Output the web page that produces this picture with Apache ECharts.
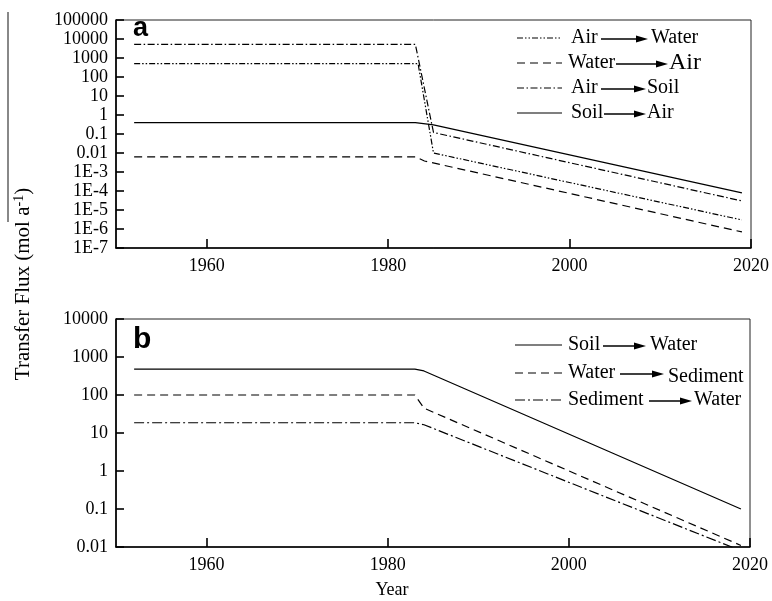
<!DOCTYPE html>
<html>
<head>
<meta charset="utf-8">
<script src="https://cdn.jsdelivr.net/npm/echarts@6/dist/echarts.min.js"></script>
<style>html,body{margin:0;padding:0;background:#fff;}#c{width:772px;height:601px;}</style>
</head>
<body>
<div id="c"></div>
<script>
// ---------- data ----------
// Panel a
const aAirWaterYears  = [1952, 1983.3, 1985, 2019];
const aAirWater       = [500, 500, 0.01, 3e-6];
const aWaterAirYears  = [1952, 1983, 1984, 2019];
const aWaterAir       = [0.0063, 0.0063, 0.0038, 7e-7];
const aAirSoilYears   = [1952, 1983, 1985, 2019];
const aAirSoil        = [5200, 5200, 0.12, 3e-5];
const aSoilAirYears   = [1952, 1983, 1985, 2019];
const aSoilAir        = [0.4, 0.4, 0.3, 8e-5];
// Panel b
const bSoilWaterYears = [1952, 1983, 1984, 2019];
const bSoilWater      = [480, 480, 430, 0.1];
const bWaterSedYears  = [1952, 1983, 1984, 2019];
const bWaterSed       = [100, 100, 45, 0.011];
const bSedWaterYears  = [1952, 1983, 1984, 2019];
const bSedWater       = [18.6, 18.6, 16.5, 0.008];
// ticks
const xTicks = [1960, 1980, 2000, 2020];
const aYTickLabels = ['1E-7','1E-6','1E-5','1E-4','1E-3','0.01','0.1','1','10','100','1000','10000','100000']; // 1e-7 .. 1e5
const bYTickLabels = ['0.01','0.1','1','10','100','1000','10000']; // 1e-2 .. 1e4
const legendA = [['Air','Water'],['Water','Air'],['Air','Soil'],['Soil','Air']];
const legendB = [['Soil','Water'],['Water','Sediment'],['Sediment','Water']];

// ---------- styles ----------
const SERIF = 'Liberation Serif';
const DASH = [8, 5];
const DASHDOT = [7, 2.5, 1.5, 2.5];
const DASHDOTDOT = [6, 2, 1.5, 2, 1.5, 2];
const DASHDOT_B = [10, 3, 2, 3];

function zip(xs, ys){ return xs.map((x,i)=>[x, ys[i]]); }
function mkSeries(name, xi, yi, xs, ys, dash){
  return {
    name, type:'line', xAxisIndex:xi, yAxisIndex:yi, data: zip(xs, ys),
    symbol:'none', showSymbol:false, clip:true, animation:false,
    lineStyle:{color:'#000', width:1.2, type: dash || 'solid'}
  };
}
function xAxisCfg(gi){
  return {
    gridIndex:gi, type:'value', min:1950, max:2020,
    axisLine:{show:true, lineStyle:{color:'#000', width:1.6}},
    axisTick:{show:true, inside:true, length:9, customValues:xTicks, lineStyle:{color:'#000', width:1.6}},
    axisLabel:{show:true, customValues:xTicks, color:'#000', fontFamily:SERIF, fontSize:18, margin:9,
      formatter:function(v){ return String(Math.round(v)); }},
    splitLine:{show:false}
  };
}
function yAxisCfg(gi, minE, maxE, labels){
  return {
    gridIndex:gi, type:'log', logBase:10, min:Math.pow(10,minE), max:Math.pow(10,maxE), interval:1,
    axisLine:{show:true, lineStyle:{color:'#000', width:1.6}},
    axisTick:{show:true, inside:true, length:8, lineStyle:{color:'#000', width:1.6}},
    axisLabel:{show:true, color:'#000', fontFamily:SERIF, fontSize:18, margin:8,
      formatter:function(v){ const e=Math.round(Math.log10(v)); return labels[e-minE] || ''; }},
    splitLine:{show:false}, minorTick:{show:false}
  };
}

// ---------- legend graphics ----------
function arrow(x1, x2, y){
  return [
    {type:'line', shape:{x1:x1, y1:y, x2:x2-8, y2:y}, style:{stroke:'#000', lineWidth:1.6}, silent:true},
    {type:'polygon', shape:{points:[[x2-12,y-3.5],[x2,y],[x2-12,y+3.5]]}, style:{fill:'#000'}, silent:true}
  ];
}
function txt(s, x, y, size){
  return {type:'text', x:x, y:y, silent:true,
    style:{text:s, fill:'#000', fontFamily:SERIF, fontSize:size||20, align:'left', verticalAlign:'middle'}};
}
function sample(x1, x2, y, dash){
  return {type:'line', shape:{x1:x1, y1:y, x2:x2, y2:y}, silent:true,
    style:{stroke:'#000', lineWidth:1.2, lineDash: dash || null}};
}
const g = [];
// panel a legend
const aRowsY = [38, 63, 88, 113];
const aDash = [DASHDOTDOT, DASH, DASHDOT, null];
const aPos = [ // [fromX, arrowX1, arrowX2, toX, toSize]
  [571, 601, 648, 651, 20],
  [568, 616, 668, 669, 24],
  [571, 601, 646, 647, 20],
  [571, 604, 646, 647, 20]
];
legendA.forEach((r,i)=>{
  const y = aRowsY[i], p = aPos[i];
  g.push(sample(517, 562, y, aDash[i]));
  g.push(txt(r[0], p[0], y));
  arrow(p[1], p[2], y+1).forEach(e=>g.push(e));
  g.push(txt(r[1], p[3], y, p[4]));
});
// panel b legend
const bRowsY = [345, 373, 400];
const bDash = [null, DASH, DASHDOT_B];
const bPos = [
  [568, 603, 646, 650, 0],
  [568, 620, 664, 668, 4],
  [568, 649, 692, 694, 0]
];
legendB.forEach((r,i)=>{
  const y = bRowsY[i], p = bPos[i];
  g.push(sample(515, 562, y, bDash[i]));
  g.push(txt(r[0], p[0], y));
  arrow(p[1], p[2], y+1).forEach(e=>g.push(e));
  g.push(txt(r[1], p[3], y + p[4]));
});
// panel letters
g.push({type:'text', x:133, y:42, silent:true, style:{text:'a', fill:'#000', fontFamily:'Liberation Sans', fontWeight:'bold', fontSize:27, align:'left', verticalAlign:'bottom'}});
g.push({type:'text', x:133, y:355, silent:true, style:{text:'b', fill:'#000', fontFamily:'Liberation Sans', fontWeight:'bold', fontSize:30, align:'left', verticalAlign:'bottom'}});
// axis titles
g.push({type:'text', x:392, y:590, silent:true, style:{text:'Year', fill:'#000', fontFamily:SERIF, fontSize:18, align:'center', verticalAlign:'middle'}});
g.push({type:'line', shape:{x1:8, y1:12, x2:8, y2:222}, style:{stroke:'#888', lineWidth:2}, silent:true});
g.push({type:'text', x:23, y:284, rotation:Math.PI/2, silent:true,
  style:{text:'Transfer Flux (mol a{sup|-1})', fill:'#000', fontFamily:SERIF, fontSize:21, align:'center', verticalAlign:'middle',
    rich:{sup:{fontFamily:SERIF, fontSize:14, verticalAlign:'top', lineHeight:21, padding:[0,0,8,0]}}}});

const option = {
  backgroundColor:'#fff',
  animation:false,
  grid:[
    {left:116, right:21, top:20, height:228, show:true, borderColor:'#222', borderWidth:1},
    {left:116, right:22, top:319, height:228, show:true, borderColor:'#222', borderWidth:1}
  ],
  xAxis:[xAxisCfg(0), xAxisCfg(1)],
  yAxis:[yAxisCfg(0,-7,5,aYTickLabels), yAxisCfg(1,-2,4,bYTickLabels)],
  series:[
    mkSeries('Air→Water',0,0,aAirWaterYears,aAirWater,DASHDOTDOT),
    mkSeries('Water→Air',0,0,aWaterAirYears,aWaterAir,DASH),
    mkSeries('Air→Soil',0,0,aAirSoilYears,aAirSoil,DASHDOT),
    mkSeries('Soil→Air',0,0,aSoilAirYears,aSoilAir,'solid'),
    mkSeries('Soil→Water',1,1,bSoilWaterYears,bSoilWater,'solid'),
    mkSeries('Water→Sediment',1,1,bWaterSedYears,bWaterSed,DASH),
    mkSeries('Sediment→Water',1,1,bSedWaterYears,bSedWater,DASHDOT_B)
  ],
  graphic:{elements:g}
};
const chart = echarts.init(document.getElementById('c'), null, {renderer:'canvas'});
chart.setOption(option);
</script>
</body>
</html>
